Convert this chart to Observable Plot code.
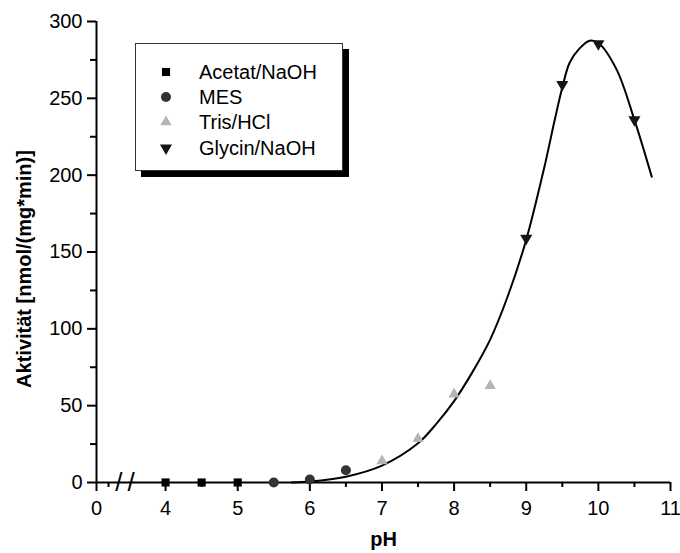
<!DOCTYPE html>
<html>
<head>
<meta charset="utf-8">
<script src="https://cdn.jsdelivr.net/npm/d3@7"></script>
<script src="https://cdn.jsdelivr.net/npm/@observablehq/plot@0.6"></script>
<style>
  body { margin: 0; background: #fff; }
  #wrap { position: relative; width: 680px; height: 553px; font-family: "Liberation Sans", Arial, sans-serif; }
  #legend { position: absolute; left: 135px; top: 43px; width: 208px; height: 128px; box-sizing: border-box;
            border: 1px solid #333; background: #fff; box-shadow: 6px 6px 0 #000; }
  .lrow { position: absolute; left: 0; width: 100%; height: 24px; }
  .lrow svg { position: absolute; left: 21px; top: 3px; }
  .lrow span { position: absolute; left: 63px; top: 0; line-height: 24px; font-size: 20px; color: #000; white-space: nowrap; }
</style>
</head>
<body>
<div id="wrap"></div>
<script>
// ---- data ----
const acetatPH = [4, 4.5, 5];
const acetatAct = [0, 0, 0];
const mesPH = [5.5, 6, 6.5];
const mesAct = [0, 2, 8];
const trisPH = [7, 7.5, 8, 8.5];
const trisAct = [14, 28.5, 57.5, 63];
const glycinPH = [9, 9.5, 10, 10.5];
const glycinAct = [159, 259, 285.5, 236];
// fitted curve
const fitPH  = [5.75, 6, 6.5, 7, 7.5, 7.75, 8, 8.25, 8.5, 8.75, 9, 9.25, 9.4, 9.5, 9.6, 9.73, 9.88, 10, 10.25, 10.5, 10.74];
const fitAct = [0, 0.6, 3.8, 11, 25.5, 38, 53, 71.5, 93, 122, 158, 205, 237, 257, 273, 282, 287.5, 286, 269, 236, 199];
const seriesNames = ["Acetat/NaOH", "MES", "Tris/HCl", "Glycin/NaOH"];
const xMajor = [0, 4, 5, 6, 7, 8, 9, 10, 11];
const xMinor = [0.5, 4.5, 5.5, 6.5, 7.5, 8.5, 9.5, 10.5];
const yMajor = [0, 50, 100, 150, 200, 250, 300];
const yMinor = [25, 75, 125, 175, 225, 275];
const axisBreak = [{from: 1, to: 3.5}];
const xTitle = "pH";
const yTitle = "Aktivität [nmol/(mg*min)]";

// ---- styles ----
const styles = [
  {symbol: "square",   fill: "#000000", r: 4.6, rotate: 0},
  {symbol: "circle",   fill: "#333333", r: 5,   rotate: 0},
  {symbol: "triangle", fill: "#b4b4b4", r: 4.2, rotate: 0},
  {symbol: "triangle", fill: "#151515", r: 4.5, rotate: 180}
];
const phs = [acetatPH, mesPH, trisPH, glycinPH];
const acts = [acetatAct, mesAct, trisAct, glycinAct];
const pts = phs.map((p, k) => p.map((v, i) => ({ph: v, act: acts[k][i]})));
const fit = fitPH.map((v, i) => ({ph: v, act: fitAct[i]}));

const chart = Plot.plot({
  width: 680, height: 553,
  marginLeft: 96, marginRight: 10, marginTop: 21, marginBottom: 71,
  style: {fontFamily: '"Liberation Sans", Arial, sans-serif', fontSize: "20px", color: "#000", background: "#fff", overflow: "visible"},
  x: {type: "linear", domain: [0, 1, 3.5, 11], range: [96, 120, 129, 670]},
  y: {domain: [0, 300]},
  marks: [
    Plot.axisY({ticks: yMajor, tickSize: 9, tickPadding: 5, stroke: "#000", strokeWidth: 2, strokeOpacity: 1, label: null, tickFormat: d => String(d)}),
    Plot.axisY({ticks: yMinor, tickSize: 6, stroke: "#000", strokeWidth: 2, strokeOpacity: 1, label: null, tickFormat: () => ""}),
    Plot.axisX({ticks: xMajor, tickSize: 9, tickPadding: 9, stroke: "#000", strokeWidth: 2, strokeOpacity: 1, label: null, tickFormat: d => String(d)}),
    Plot.axisX({ticks: xMinor, tickSize: 5, stroke: "#000", strokeWidth: 2, strokeOpacity: 1, label: null, tickFormat: () => ""}),
    Plot.ruleX([0], {y1: 0, y2: 300, stroke: "#000", strokeWidth: 2}),
    Plot.ruleY([0], {x1: 0, x2: 11, stroke: "#000", strokeWidth: 2}),
    Plot.text(axisBreak, {x: d => (d.from + d.to) / 2, y: 0, text: () => "/\u2009/", fontSize: 26, textAnchor: "middle", lineAnchor: "middle"}),
    Plot.line(fit, {x: "ph", y: "act", curve: "catmull-rom", stroke: "#000", strokeWidth: 2}),
    ...pts.map((p, k) => Plot.dot(p, {x: "ph", y: "act", symbol: styles[k].symbol, fill: styles[k].fill, r: styles[k].r, rotate: styles[k].rotate})),
    Plot.text([xTitle], {frameAnchor: "bottom", dy: 57, textAnchor: "middle", lineAnchor: "middle", text: d => d, fontWeight: "bold", fontSize: 20}),
    Plot.text([yTitle], {frameAnchor: "left", rotate: -90, dx: -72, dy: 17, textAnchor: "middle", lineAnchor: "middle", text: d => d, fontWeight: "bold", fontSize: 20})
  ]
});

const wrap = document.getElementById("wrap");
wrap.appendChild(chart);

// ---- legend ----
const legend = document.createElement("div");
legend.id = "legend";
const rowTops = [16, 41, 66, 92];
const symMap = {square: d3.symbolSquare, circle: d3.symbolCircle, triangle: d3.symbolTriangle};
seriesNames.forEach((name, k) => {
  const row = document.createElement("div");
  row.className = "lrow";
  row.style.top = rowTops[k] + "px";
  const s = styles[k];
  const path = d3.symbol(symMap[s.symbol], Math.PI * s.r * s.r)();
  row.innerHTML = `<svg width="18" height="18" viewBox="-9 -9 18 18"><path d="${path}" fill="${s.fill}" transform="rotate(${s.rotate})"/></svg><span>${name}</span>`;
  legend.appendChild(row);
});
wrap.appendChild(legend);
</script>
</body>
</html>
